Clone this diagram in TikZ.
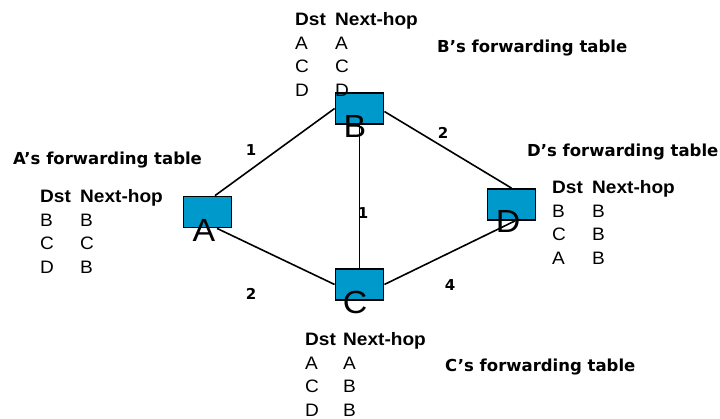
\documentclass[tikz,border=0pt]{standalone}
\usepackage{fontspec}
\setmainfont{Liberation Sans}[FakeStretch=1.06]
\newfontfamily\ttlfont{DejaVu Sans}
\usetikzlibrary{backgrounds}
\definecolor{boxblue}{RGB}{0,153,204}
\tikzset{
  router/.style={draw=black, line width=1.8pt, fill=boxblue, minimum width=48pt, minimum height=31pt, inner sep=0pt},
  rletter/.style={anchor=base, inner sep=0pt, font=\fontsize{32}{32}\selectfont},
  ftitle/.style={anchor=base west, inner sep=0pt, font=\ttlfont\bfseries\fontsize{16.5}{18}\selectfont},
  ftable/.style={anchor=base west, inner sep=0pt, font=\fontsize{18}{23.5}\selectfont},
  weight/.style={inner sep=0pt, font=\ttlfont\bfseries\fontsize{15}{15}\selectfont},
  link/.style={line width=1.6pt, black}
}
\newcommand{\fwtab}[4]{\begin{tabular}[t]{@{}p{#1}@{}l@{}}\textbf{Dst}&\textbf{Next-hop}\\#2\\#3\\#4\end{tabular}}
\begin{document}
\begin{tikzpicture}[x=1pt,y=-1pt]
\useasboundingbox (0,0) rectangle (720,419);
% routers
\node[router] (A) at (207.5,212) {};
\node[router] (B) at (359.5,108.5) {};
\node[router] (C) at (359.5,284.5) {};
\node[router] (D) at (511.5,204.5) {};
% links
\begin{scope}[on background layer]
\draw[link] ([xshift=7.5pt]A.north) -- (B.west);
\draw[link] ([yshift=-3pt]B.east) -- (D.north);
\draw[link] (B.south) -- (C.north);
\draw[link] ([xshift=9.5pt]A.south) -- (C.west);
\draw[link] (C.east) -- ([xshift=3.5pt]D.south);
\end{scope}
% router letters
\node[rletter] (la) at (204,242) {A};
\node[rletter] (lb) at (355,138) {B};
\node[rletter] (lc) at (355,314) {C};
\node[rletter] (ld) at (508,233) {D};
% weights
\node[weight] (w1) at (251,150) {1};
\node[weight] (w2) at (443,133) {2};
\node[weight] (w3) at (363,213) {1};
\node[weight] (w4) at (251,294) {2};
\node[weight] (w5) at (450,285.5) {4};
% titles
\node[ftitle] (ta) at (13,165) {A’s forwarding table};
\node[ftitle] (tb) at (437,53) {B’s forwarding table};
\node[ftitle] (tc) at (445,372) {C’s forwarding table};
\node[ftitle] (td) at (527,157) {D’s forwarding table};
% tables
\node[ftable] (fa) at (40,203) {\fwtab{40pt}{B&B}{C&C}{D&B}};
\node[ftable] (fb) at (295,26) {\fwtab{40pt}{A&A}{C&C}{D&D}};
\node[ftable] (fc) at (305,346) {\fwtab{38pt}{A&A}{C&B}{D&B}};
\node[ftable] (fd) at (552,194) {\fwtab{40pt}{B&B}{C&B}{A&B}};
\end{tikzpicture}
\end{document}
